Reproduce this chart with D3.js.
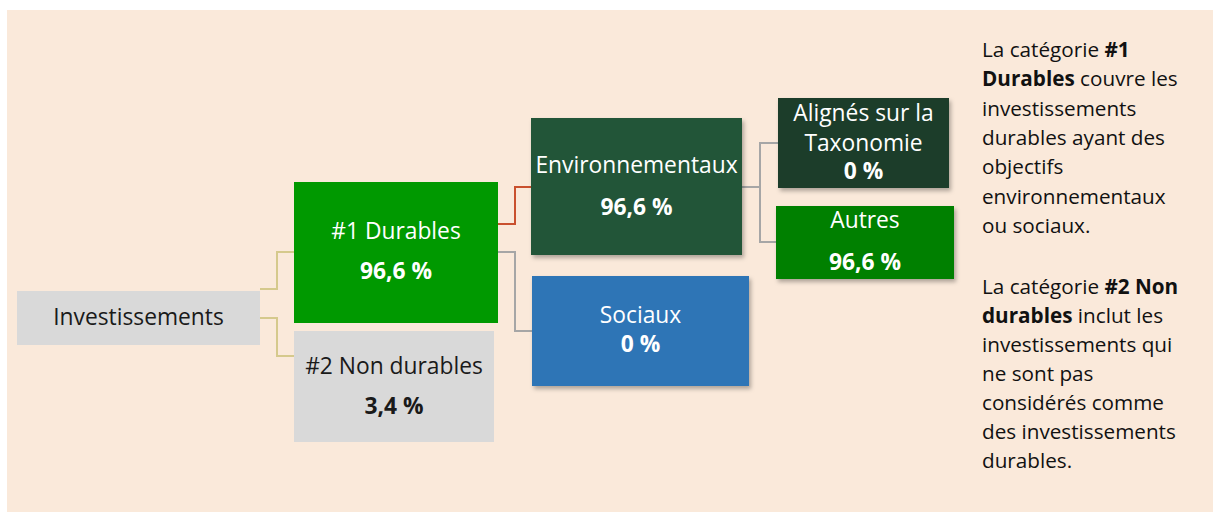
<!DOCTYPE html>
<html>
<head>
<meta charset="utf-8">
<script src="https://cdn.jsdelivr.net/npm/d3@7"></script>
<style>
  body { margin: 0; background: #fff; }
  svg { display: block; }
  text { font-family: "Open Sans", sans-serif; }
</style>
</head>
<body>
<div id="chart"></div>
<script>
// data
var labels = ["Investissements", "#1 Durables", "#2 Non durables", "Environnementaux", "Sociaux", "Alignés sur la|Taxonomie", "Autres"];
var values = [null, 96.6, 3.4, 96.6, 0, 0, 96.6];
var parents = [null, 0, 0, 1, 1, 3, 3];

var note1 = [[["La catégorie ", 0], ["#1", 1]], [["Durables", 1], [" couvre les", 0]], [["investissements", 0]],
  [["durables ayant des", 0]], [["objectifs", 0]], [["environnementaux", 0]], [["ou sociaux.", 0]]];
var note2 = [[["La catégorie ", 0], ["#2 Non", 1]], [["durables", 1], [" inclut les", 0]], [["investissements qui", 0]],
  [["ne sont pas", 0]], [["considérés comme", 0]], [["des investissements", 0]], [["durables.", 0]]];

// box layout (x, y, w, h) and line baselines relative to the box top
var layout = [
  { x: 17, y: 291, w: 243, h: 54, lines: [34], fill: "#d9d9d9", color: "#1a1a1a", shadow: false },
  { x: 294, y: 182, w: 204, h: 141, lines: [57, 97], fill: "#009900", color: "#ffffff", shadow: false },
  { x: 294, y: 331, w: 200, h: 111, lines: [43, 83], fill: "#d9d9d9", color: "#1a1a1a", shadow: false },
  { x: 531, y: 118, w: 211, h: 137, lines: [55, 97], fill: "#245439", color: "#ffffff", shadow: true },
  { x: 532, y: 276, w: 217, h: 110, lines: [47, 76], fill: "#2e75b6", color: "#ffffff", shadow: true },
  { x: 778, y: 98, w: 171, h: 90, lines: [23, 53, 81], fill: "#1b3e2a", color: "#ffffff", shadow: true },
  { x: 776, y: 206, w: 178, h: 73, lines: [22, 64], fill: "#008000", color: "#ffffff", shadow: true }
];
// connectors: start y on parent, end y on child, elbow x, colour
var links = [
  { child: 1, y0: 289, y1: 252, xm: 277, stroke: "#d5c98c" },
  { child: 2, y0: 318, y1: 356, xm: 277, stroke: "#d5c98c" },
  { child: 3, y0: 224, y1: 187, xm: 515, stroke: "#c9502e" },
  { child: 4, y0: 252, y1: 331, xm: 515, stroke: "#a6a6a6" },
  { child: 5, y0: 187, y1: 143, xm: 760, stroke: "#a6a6a6" },
  { child: 6, y0: 187, y1: 242, xm: 760, stroke: "#a6a6a6" }
];

var width = 1213, height = 512;
var fr = d3.formatLocale({ decimal: ",", thousands: " ", grouping: [3], currency: ["", " €"] });
function pct(v) {
  return (Number.isInteger(v) ? fr.format("d")(v) : fr.format(".1f")(v)) + " %";
}

var svg = d3.select("#chart").append("svg")
  .attr("width", width)
  .attr("height", height);

var defs = svg.append("defs");
defs.append("filter")
  .attr("id", "shadow")
  .attr("x", "-10%").attr("y", "-10%").attr("width", "130%").attr("height", "140%")
  .append("feDropShadow")
  .attr("dx", 2).attr("dy", 3).attr("stdDeviation", 2)
  .attr("flood-color", "#000").attr("flood-opacity", 0.3);

// background panel
svg.append("rect")
  .attr("x", 7).attr("y", 10)
  .attr("width", width - 7).attr("height", height - 10)
  .attr("fill", "#fae9da");

// connectors
var line = d3.line();
svg.selectAll("path.link")
  .data(links)
  .enter()
  .append("path")
  .attr("class", "link")
  .attr("fill", "none")
  .attr("stroke", function (d) { return d.stroke; })
  .attr("stroke-width", 2)
  .attr("d", function (d) {
    var p = layout[parents[d.child]], c = layout[d.child];
    return line([[p.x + p.w, d.y0], [d.xm, d.y0], [d.xm, d.y1], [c.x, d.y1]]);
  });

// boxes
var node = svg.selectAll("g.node")
  .data(labels.map(function (l, i) { return { label: l, value: values[i], box: layout[i] }; }))
  .enter()
  .append("g")
  .attr("class", "node")
  .attr("transform", function (d) { return "translate(" + d.box.x + "," + d.box.y + ")"; });

node.append("rect")
  .attr("width", function (d) { return d.box.w; })
  .attr("height", function (d) { return d.box.h; })
  .attr("fill", function (d) { return d.box.fill; })
  .attr("filter", function (d) { return d.box.shadow ? "url(#shadow)" : null; });

node.each(function (d) {
  var g = d3.select(this);
  var rows = d.label.split("|").map(function (t) { return { t: t, bold: false }; });
  if (d.value !== null) rows.push({ t: pct(d.value), bold: true });
  g.selectAll("text")
    .data(rows)
    .enter()
    .append("text")
    .attr("x", d.box.w / 2)
    .attr("y", function (r, i) { return d.box.lines[i]; })
    .attr("text-anchor", "middle")
    .attr("font-size", 22.8)
    .attr("font-weight", function (r) { return r.bold ? 700 : 400; })
    .attr("fill", d.box.color)
    .text(function (r) { return r.t; });
});

// side note
function drawNote(rows, y0, step) {
  var t = svg.append("g");
  rows.forEach(function (row, i) {
    var tx = t.append("text")
      .attr("x", 982)
      .attr("y", y0 + i * step)
      .attr("font-size", 20.7)
      .attr("fill", "#111");
    row.forEach(function (s) {
      tx.append("tspan")
        .attr("font-weight", s[1] ? 700 : 400)
        .text(s[0]);
    });
  });
}
drawNote(note1, 57, 29.3);
drawNote(note2, 294, 29);
</script>
</body>
</html>
